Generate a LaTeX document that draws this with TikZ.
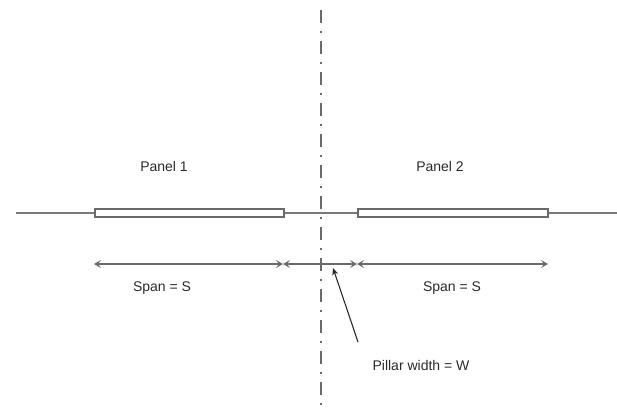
\documentclass[tikz,border=0pt]{standalone}
\usepackage{fontspec}
\setmainfont{Liberation Sans}
\usetikzlibrary{arrows.meta}
\definecolor{linegray}{HTML}{7A7A7A}
\definecolor{boxgray}{HTML}{6A6A6A}
\definecolor{textgray}{HTML}{2A2A2A}
\tikzset{
  baseline/.style={draw=linegray, line width=1.5pt},
  panelbox/.style={draw=boxgray, line width=1.5pt, fill=white},
  dimarrow/.style={draw=boxgray, line width=1.5pt, {Stealth[length=7pt,width=8pt,inset=3pt]}-{Stealth[length=7pt,width=8pt,inset=3pt]}},
  pointer/.style={draw=textgray, line width=1.1pt, -{Stealth[length=7pt,width=6pt,inset=2pt]}},
  axisline/.style={draw=boxgray, line width=1.7pt, dash pattern=on 13pt off 8pt on 2pt off 8pt},
  lbl/.style={font=\fontsize{14}{16}\selectfont, text=textgray, inner sep=0pt}
}
\begin{document}
\begin{tikzpicture}[x=1pt,y=-1pt]
\useasboundingbox (0,0) rectangle (617,410);
% baseline
\coordinate (L) at (16,213);
\coordinate (R) at (617,213);
\draw[baseline] (L) -- (R);
% panels
\node[panelbox, minimum width=189pt, minimum height=8pt, inner sep=0pt, anchor=west] (p1) at (94,213) {};
\node[panelbox, minimum width=190pt, minimum height=8pt, inner sep=0pt, anchor=west] (p2) at (357,213) {};
% centre line
\coordinate (ctop) at (321,10);
\coordinate (cbot) at (321,410);
\draw[axisline] (ctop) -- (cbot);
% dimension arrows
\coordinate (a1) at (94,264);
\coordinate (a2) at (283,264);
\coordinate (a3) at (357,264);
\coordinate (a4) at (548,264);
\draw[dimarrow] (a1) -- (a2);
\draw[dimarrow] (a2) -- (a3);
\draw[dimarrow] (a3) -- (a4);
% labels
\node[lbl] (t1) at (164,166) {Panel 1};
\node[lbl] (t2) at (440,166) {Panel 2};
\node[lbl] (s1) at (162,288) {Span = S};
\node[lbl] (s2) at (452,288) {Span = S};
\node[lbl] (pw) at (421,365) {Pillar width = W};
% pointer
\coordinate (ptail) at (358,342);
\coordinate (ptip) at (333,268);
\draw[pointer] (ptail) -- (ptip);
\end{tikzpicture}
\end{document}
